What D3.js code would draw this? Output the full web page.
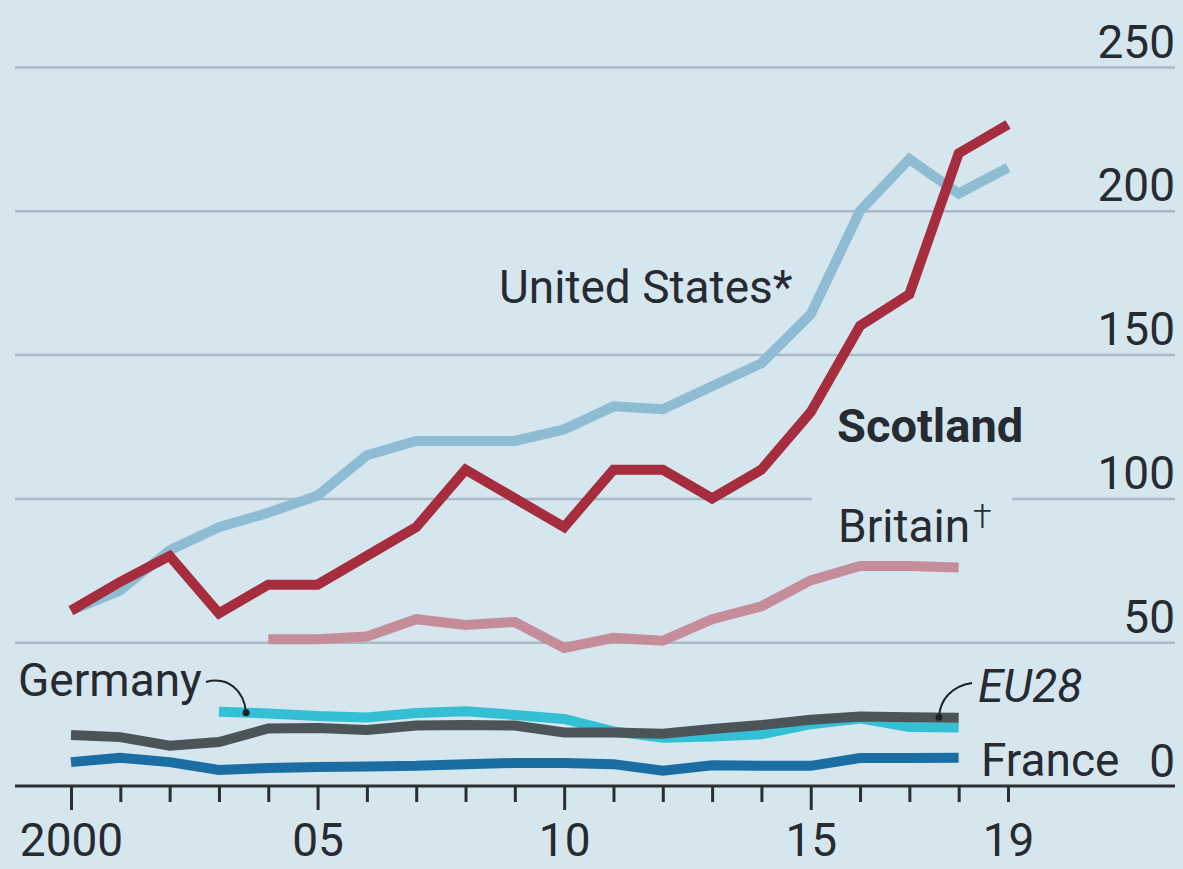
<!DOCTYPE html>
<html>
<head>
<meta charset="utf-8">
<script src="https://cdn.jsdelivr.net/npm/d3@7"></script>
<style>
	body { margin: 0; background: #d6e6ef; }
	#chart { width: 1183px; height: 869px; }
	text { font-family: Roboto, "Open Sans", sans-serif; fill: #262a31; }
	.lbl { font-size: 46px; font-weight: 400; }
	.tickLbl { font-size: 46px; font-weight: 400; }
</style>
</head>
<body>
<div id="chart"></div>
<script>
// Data
const years = [2000, 2001, 2002, 2003, 2004, 2005, 2006, 2007, 2008, 2009,
	2010, 2011, 2012, 2013, 2014, 2015, 2016, 2017, 2018, 2019];
const unitedStates = [61, 68, 82, 90, 95, 101, 115, 120, 120, 120,
	124, 132, 131, 139, 147, 164, 200, 218, 206, 215];
const scotland = [61, 71, 80, 60, 70, 70, 80, 90, 110, 100,
	90, 110, 110, 100, 110, 130, 160, 171, 220, 230];
const britain = [null, null, null, null, 51, 51, 52, 58, 56, 57,
	48, 51.5, 50.5, 58, 62.5, 71.5, 76.5, 76.5, 76, null];
const germany = [null, null, null, 25.8, 25.2, 24.3, 23.8, 25.4, 26, 24.7,
	23.3, 19, 16.8, 17.2, 18, 21.5, 23.5, 20.5, 20.3, null];
const eu28 = [17.7, 17, 14, 15.3, 20, 20.2, 19.5, 21, 21.2, 21,
	18.6, 18.6, 18.2, 19.8, 21.2, 23, 24.2, 23.9, 23.7, null];
const france = [8.3, 9.8, 8.3, 5.6, 6.3, 6.6, 6.8, 7, 7.6, 8,
	8, 7.6, 5.3, 7.2, 7, 7, 9.7, 9.7, 9.8, null];
const yTicks = [0, 50, 100, 150, 200, 250];
const majorYears = [2000, 2005, 2010, 2015];
const labelYears = [2000, 2005, 2010, 2015, 2019];

const width = 1183;
const height = 869;

var svg = d3.select("#chart").append("svg")
	.attr("width", width)
	.attr("height", height);

svg.append("rect")
	.attr("width", width)
	.attr("height", height)
	.attr("fill", "#d6e6ef");

var x = d3.scaleLinear().domain([2000, 2019]).range([71, 1008]);
var y = d3.scaleLinear().domain([0, 250]).range([786, 67]);

// Gridlines + y labels (labels sit above the lines, right aligned)
var yAxis = svg.append("g")
	.attr("transform", "translate(1175,0)")
	.call(d3.axisLeft(y).tickValues(yTicks).tickSize(1160).tickFormat(d3.format("d")));
yAxis.select(".domain").remove();
yAxis.selectAll(".tick line")
	.attr("stroke", "#a8bac5")
	.attr("stroke-width", 2.5)
	.attr("stroke-opacity", d => d === 0 ? 0 : 1);
yAxis.selectAll(".tick text")
	.attr("class", "tickLbl")
	.attr("x", 0)
	.attr("dy", -10)
	.attr("text-anchor", "end")
	.attr("font-family", null)
	.attr("font-size", null);

// knock-out behind the Britain label on the 100 line
svg.append("rect")
	.attr("x", 812).attr("y", y(100) - 4)
	.attr("width", 200).attr("height", 8)
	.attr("fill", "#d6e6ef");

// x axis
var xAxis = svg.append("g")
	.attr("transform", "translate(0," + y(0) + ")")
	.call(d3.axisBottom(x).tickValues(years).tickSize(16)
		.tickFormat(d => labelYears.includes(d) ? (d === 2000 ? "2000" : String(d).slice(2)) : ""));
xAxis.select(".domain")
	.attr("d", "M15,0H1175")
	.attr("stroke", "#2b2f33")
	.attr("stroke-width", 3);
xAxis.selectAll(".tick line")
	.attr("stroke", "#2b2f33")
	.attr("stroke-width", 3)
	.attr("y2", d => majorYears.includes(d) ? 24 : 16);
xAxis.selectAll(".tick text")
	.attr("class", "tickLbl")
	.attr("y", 70)
	.attr("dy", 0)
	.attr("font-family", null)
	.attr("font-size", null);

// series
var line = d3.line()
	.defined(d => d[1] !== null)
	.x(d => x(d[0]))
	.y(d => y(d[1]));

function drawSeries(values, colour) {
	svg.append("path")
		.datum(years.map((yr, i) => [yr, values[i]]))
		.attr("fill", "none")
		.attr("stroke", colour)
		.attr("stroke-width", 10)
		.attr("stroke-linejoin", "miter")
		.attr("d", line);
}

drawSeries(unitedStates, "#8dbcd3");
drawSeries(scotland, "#a52d3d");
drawSeries(britain, "#c48d99");
drawSeries(france, "#1b6ea3");
drawSeries(germany, "#33c0d5");
drawSeries(eu28, "#4b5459");

// labels
svg.append("text").attr("class", "lbl")
	.attr("x", 499).attr("y", 303).text("United States*");

svg.append("text")
	.attr("x", 837).attr("y", 442)
	.attr("font-size", 47).attr("font-weight", 700)
	.text("Scotland");

var brit = svg.append("text").attr("class", "lbl")
	.attr("x", 838).attr("y", 542);
brit.append("tspan").text("Britain");
brit.append("tspan").attr("font-size", 34).attr("font-weight", 300).attr("dx", 3).attr("dy", -14).text("†");

svg.append("text").attr("class", "lbl")
	.attr("x", 18).attr("y", 696).text("Germany");

svg.append("text").attr("class", "lbl")
	.attr("x", 978).attr("y", 702)
	.attr("font-style", "italic").text("EU28");

svg.append("text").attr("class", "lbl")
	.attr("x", 981).attr("y", 776).text("France");

// leaders
var gx = x(2003.55), gy = y(25.5);
svg.append("path")
	.attr("d", "M206,682 C228,676 " + (gx - 2) + "," + (gy - 22) + " " + gx + "," + gy)
	.attr("fill", "none").attr("stroke", "#1e2226").attr("stroke-width", 2);
svg.append("circle").attr("cx", gx).attr("cy", gy).attr("r", 3.5).attr("fill", "#1e2226");

var ex = x(2017.6), ey = y(23.9);
svg.append("path")
	.attr("d", "M972,683 C952,686 " + (ex + 1) + "," + (ey - 18) + " " + ex + "," + ey)
	.attr("fill", "none").attr("stroke", "#1e2226").attr("stroke-width", 2);
svg.append("circle").attr("cx", ex).attr("cy", ey).attr("r", 3.5).attr("fill", "#1e2226");
</script>
</body>
</html>
